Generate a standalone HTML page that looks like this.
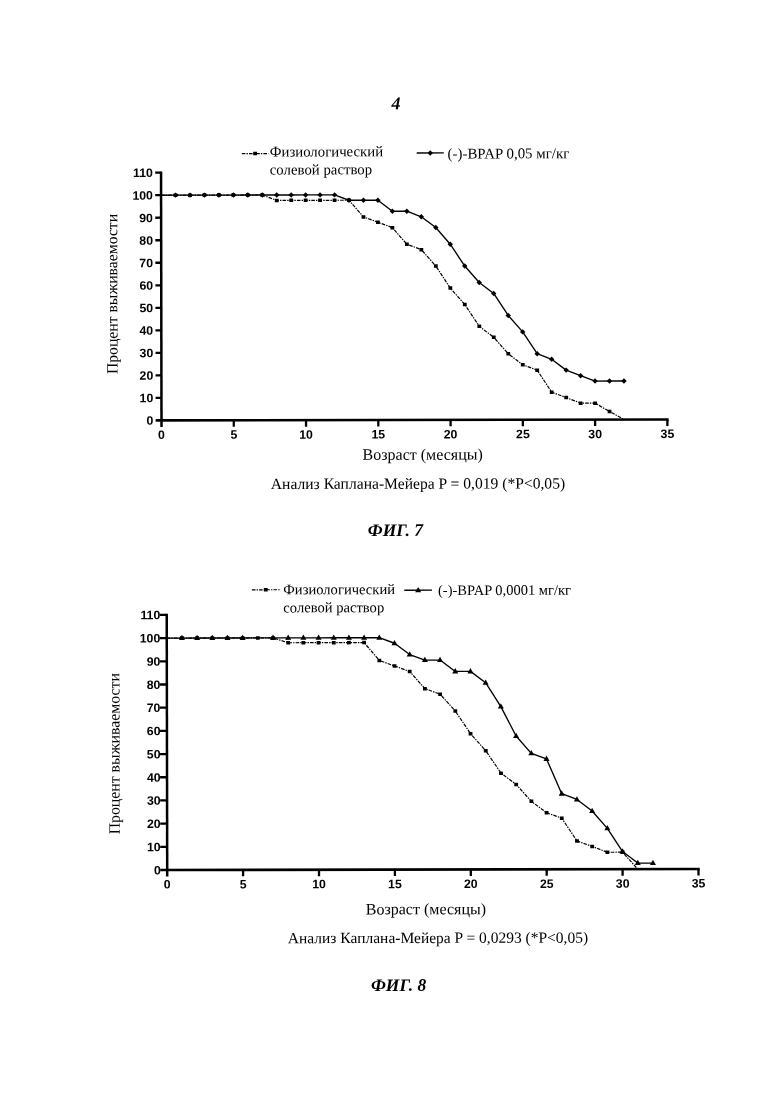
<!DOCTYPE html>
<html lang="ru"><head><meta charset="utf-8"><title>4</title>
<style>html,body{margin:0;padding:0;background:#fff}svg{display:block}</style></head>
<body>
<svg width="780" height="1103" viewBox="0 0 780 1103">
<rect width="780" height="1103" fill="#fff"/>
<g transform="rotate(-0.108 390 551.5)" fill="#000">
<text x="396.83" y="109.21" text-anchor="middle" font-family="'Liberation Serif', serif" font-size="18px" font-style="italic" font-weight="bold">4</text>
<path d="M161.75 171.10V426.47" stroke="#000" stroke-width="2.5" fill="none"/>
<path d="M155.90 419.97H668.84" stroke="#000" stroke-width="2.6" fill="none"/>
<path d="M155.90 397.45H161.75M155.90 374.93H161.75M155.90 352.41H161.75M155.90 329.89H161.75M155.90 307.37H161.75M155.90 284.85H161.75M155.90 262.33H161.75M155.90 239.81H161.75M155.90 217.29H161.75M155.90 194.77H161.75M155.90 172.25H161.75M234.02 419.97V426.47M306.29 419.97V426.47M378.56 419.97V426.47M450.83 419.97V426.47M523.10 419.97V426.47M595.37 419.97V426.47M667.64 419.97V426.47" stroke="#000" stroke-width="2.3" fill="none"/>
<g font-family="'Liberation Sans', sans-serif" font-weight="bold" font-size="12.3px" fill="#000">
<text x="153.60" y="424.37" text-anchor="end">0</text>
<text x="153.60" y="401.85" text-anchor="end">10</text>
<text x="153.60" y="379.33" text-anchor="end">20</text>
<text x="153.60" y="356.81" text-anchor="end">30</text>
<text x="153.60" y="334.29" text-anchor="end">40</text>
<text x="153.60" y="311.77" text-anchor="end">50</text>
<text x="153.60" y="289.25" text-anchor="end">60</text>
<text x="153.60" y="266.73" text-anchor="end">70</text>
<text x="153.60" y="244.21" text-anchor="end">80</text>
<text x="153.60" y="221.69" text-anchor="end">90</text>
<text x="153.60" y="199.17" text-anchor="end">100</text>
<text x="153.60" y="176.65" text-anchor="end">110</text>
<text x="161.75" y="438.57" text-anchor="middle">0</text>
<text x="234.02" y="438.57" text-anchor="middle">5</text>
<text x="306.29" y="438.57" text-anchor="middle">10</text>
<text x="378.56" y="438.57" text-anchor="middle">15</text>
<text x="450.83" y="438.57" text-anchor="middle">20</text>
<text x="523.10" y="438.57" text-anchor="middle">25</text>
<text x="595.37" y="438.57" text-anchor="middle">30</text>
<text x="667.64" y="438.57" text-anchor="middle">35</text>
</g>
<polyline points="161.75,194.77 176.20,194.77 190.66,194.77 205.11,194.77 219.57,194.77 234.02,194.77 248.47,194.77 262.93,194.77 277.38,200.17 291.84,200.17 306.29,200.17 320.74,200.17 335.20,200.17 349.65,200.17 364.11,216.84 378.56,222.24 393.01,227.65 407.47,244.31 421.92,249.72 436.38,266.16 450.83,288.23 465.28,304.67 479.74,326.51 494.19,337.55 508.65,353.99 523.10,365.02 537.55,370.43 552.01,392.50 566.46,397.90 580.92,403.53 595.37,403.53 609.82,411.86 624.28,419.97" fill="none" stroke="#000" stroke-width="1.2" stroke-dasharray="3.6 1.1 1.4 1.1"/>
<g fill="#000">
<rect x="174.30" y="193.02" width="3.8" height="3.5"/>
<rect x="188.76" y="193.02" width="3.8" height="3.5"/>
<rect x="203.21" y="193.02" width="3.8" height="3.5"/>
<rect x="217.67" y="193.02" width="3.8" height="3.5"/>
<rect x="232.12" y="193.02" width="3.8" height="3.5"/>
<rect x="246.57" y="193.02" width="3.8" height="3.5"/>
<rect x="261.03" y="193.02" width="3.8" height="3.5"/>
<rect x="275.48" y="198.42" width="3.8" height="3.5"/>
<rect x="289.94" y="198.42" width="3.8" height="3.5"/>
<rect x="304.39" y="198.42" width="3.8" height="3.5"/>
<rect x="318.84" y="198.42" width="3.8" height="3.5"/>
<rect x="333.30" y="198.42" width="3.8" height="3.5"/>
<rect x="347.75" y="198.42" width="3.8" height="3.5"/>
<rect x="362.21" y="215.09" width="3.8" height="3.5"/>
<rect x="376.66" y="220.49" width="3.8" height="3.5"/>
<rect x="391.11" y="225.90" width="3.8" height="3.5"/>
<rect x="405.57" y="242.56" width="3.8" height="3.5"/>
<rect x="420.02" y="247.97" width="3.8" height="3.5"/>
<rect x="434.48" y="264.41" width="3.8" height="3.5"/>
<rect x="448.93" y="286.48" width="3.8" height="3.5"/>
<rect x="463.38" y="302.92" width="3.8" height="3.5"/>
<rect x="477.84" y="324.76" width="3.8" height="3.5"/>
<rect x="492.29" y="335.80" width="3.8" height="3.5"/>
<rect x="506.75" y="352.24" width="3.8" height="3.5"/>
<rect x="521.20" y="363.27" width="3.8" height="3.5"/>
<rect x="535.65" y="368.68" width="3.8" height="3.5"/>
<rect x="550.11" y="390.75" width="3.8" height="3.5"/>
<rect x="564.56" y="396.15" width="3.8" height="3.5"/>
<rect x="579.02" y="401.78" width="3.8" height="3.5"/>
<rect x="593.47" y="401.78" width="3.8" height="3.5"/>
<rect x="607.92" y="410.11" width="3.8" height="3.5"/>
</g>
<polyline points="161.75,194.77 176.20,194.77 190.66,194.77 205.11,194.77 219.57,194.77 234.02,194.77 248.47,194.77 262.93,194.77 277.38,194.77 291.84,194.77 306.29,194.77 320.74,194.77 335.20,194.77 349.65,200.17 364.11,200.17 378.56,200.17 393.01,211.21 407.47,211.21 421.92,216.84 436.38,227.65 450.83,244.31 465.28,266.16 479.74,282.60 494.19,293.63 508.65,315.70 523.10,332.14 537.55,353.99 552.01,359.62 566.46,370.43 580.92,376.06 595.37,381.46 609.82,381.46 624.28,381.46" fill="none" stroke="#000" stroke-width="1.35" stroke-linejoin="round"/>
<g fill="#000">
<path d="M173.50 194.77L176.20 192.07L178.90 194.77L176.20 197.47Z"/>
<path d="M187.96 194.77L190.66 192.07L193.36 194.77L190.66 197.47Z"/>
<path d="M202.41 194.77L205.11 192.07L207.81 194.77L205.11 197.47Z"/>
<path d="M216.87 194.77L219.57 192.07L222.27 194.77L219.57 197.47Z"/>
<path d="M231.32 194.77L234.02 192.07L236.72 194.77L234.02 197.47Z"/>
<path d="M245.77 194.77L248.47 192.07L251.17 194.77L248.47 197.47Z"/>
<path d="M260.23 194.77L262.93 192.07L265.63 194.77L262.93 197.47Z"/>
<path d="M274.68 194.77L277.38 192.07L280.08 194.77L277.38 197.47Z"/>
<path d="M289.14 194.77L291.84 192.07L294.54 194.77L291.84 197.47Z"/>
<path d="M303.59 194.77L306.29 192.07L308.99 194.77L306.29 197.47Z"/>
<path d="M318.04 194.77L320.74 192.07L323.44 194.77L320.74 197.47Z"/>
<path d="M332.50 194.77L335.20 192.07L337.90 194.77L335.20 197.47Z"/>
<path d="M346.95 200.17L349.65 197.47L352.35 200.17L349.65 202.87Z"/>
<path d="M361.41 200.17L364.11 197.47L366.81 200.17L364.11 202.87Z"/>
<path d="M375.86 200.17L378.56 197.47L381.26 200.17L378.56 202.87Z"/>
<path d="M390.31 211.21L393.01 208.51L395.71 211.21L393.01 213.91Z"/>
<path d="M404.77 211.21L407.47 208.51L410.17 211.21L407.47 213.91Z"/>
<path d="M419.22 216.84L421.92 214.14L424.62 216.84L421.92 219.54Z"/>
<path d="M433.68 227.65L436.38 224.95L439.08 227.65L436.38 230.35Z"/>
<path d="M448.13 244.31L450.83 241.61L453.53 244.31L450.83 247.01Z"/>
<path d="M462.58 266.16L465.28 263.46L467.98 266.16L465.28 268.86Z"/>
<path d="M477.04 282.60L479.74 279.90L482.44 282.60L479.74 285.30Z"/>
<path d="M491.49 293.63L494.19 290.93L496.89 293.63L494.19 296.33Z"/>
<path d="M505.95 315.70L508.65 313.00L511.35 315.70L508.65 318.40Z"/>
<path d="M520.40 332.14L523.10 329.44L525.80 332.14L523.10 334.84Z"/>
<path d="M534.85 353.99L537.55 351.29L540.25 353.99L537.55 356.69Z"/>
<path d="M549.31 359.62L552.01 356.92L554.71 359.62L552.01 362.32Z"/>
<path d="M563.76 370.43L566.46 367.73L569.16 370.43L566.46 373.13Z"/>
<path d="M578.22 376.06L580.92 373.36L583.62 376.06L580.92 378.76Z"/>
<path d="M592.67 381.46L595.37 378.76L598.07 381.46L595.37 384.16Z"/>
<path d="M607.12 381.46L609.82 378.76L612.52 381.46L609.82 384.16Z"/>
<path d="M621.58 381.46L624.28 378.76L626.98 381.46L624.28 384.16Z"/>
</g>
<path d="M242.55 153.32H269.15" stroke="#000" stroke-width="1.2" stroke-dasharray="3.6 1.1 1.4 1.1" fill="none"/><rect x="253.95" y="151.57" width="3.8" height="3.5"/>
<text x="270.54" y="156.27" text-anchor="start" font-family="'Liberation Serif', serif" font-size="14.8px" >Физиологический</text>
<text x="270.51" y="174.27" text-anchor="start" font-family="'Liberation Serif', serif" font-size="14.8px" >солевой раствор</text>
<path d="M417.45 153.05H444.55" stroke="#000" stroke-width="1.35" fill="none"/><path d="M428.30 153.05L431.00 150.35L433.70 153.05L431.00 155.75Z"/>
<text x="448.34" y="158.61" text-anchor="start" font-family="'Liberation Serif', serif" font-size="14.9px" >(-)-BPAP 0,05 мг/кг</text>
<text transform="translate(117.79,293.49) rotate(-90)" text-anchor="middle" font-family="'Liberation Serif', serif" font-size="15.7px">Процент выживаемости</text>
<text x="422.87" y="459.76" text-anchor="middle" font-family="'Liberation Serif', serif" font-size="16px" >Возраст (месяцы)</text>
<text x="418.12" y="488.75" text-anchor="middle" font-family="'Liberation Serif', serif" font-size="15.6px" >Анализ Каплана-Мейера P = 0,019 (*P&lt;0,05)</text>
<text x="395.53" y="535.91" text-anchor="middle" font-family="'Liberation Serif', serif" font-size="17.5px" font-style="italic" font-weight="bold">ФИГ. 7</text>
<path d="M166.60 613.34V876.08" stroke="#000" stroke-width="2.5" fill="none"/>
<path d="M159.65 869.58H699.10" stroke="#000" stroke-width="2.6" fill="none"/>
<path d="M159.65 846.39H166.60M159.65 823.20H166.60M159.65 800.01H166.60M159.65 776.82H166.60M159.65 753.63H166.60M159.65 730.44H166.60M159.65 707.25H166.60M159.65 684.06H166.60M159.65 660.87H166.60M159.65 637.68H166.60M159.65 614.49H166.60M242.50 869.58V876.08M318.40 869.58V876.08M394.30 869.58V876.08M470.20 869.58V876.08M546.10 869.58V876.08M622.00 869.58V876.08M697.90 869.58V876.08" stroke="#000" stroke-width="2.3" fill="none"/>
<g font-family="'Liberation Sans', sans-serif" font-weight="bold" font-size="12.3px" fill="#000">
<text x="160.15" y="873.98" text-anchor="end">0</text>
<text x="160.15" y="850.79" text-anchor="end">10</text>
<text x="160.15" y="827.60" text-anchor="end">20</text>
<text x="160.15" y="804.41" text-anchor="end">30</text>
<text x="160.15" y="781.22" text-anchor="end">40</text>
<text x="160.15" y="758.03" text-anchor="end">50</text>
<text x="160.15" y="734.84" text-anchor="end">60</text>
<text x="160.15" y="711.65" text-anchor="end">70</text>
<text x="160.15" y="688.46" text-anchor="end">80</text>
<text x="160.15" y="665.27" text-anchor="end">90</text>
<text x="160.15" y="642.08" text-anchor="end">100</text>
<text x="160.15" y="618.89" text-anchor="end">110</text>
<text x="166.60" y="888.18" text-anchor="middle">0</text>
<text x="242.50" y="888.18" text-anchor="middle">5</text>
<text x="318.40" y="888.18" text-anchor="middle">10</text>
<text x="394.30" y="888.18" text-anchor="middle">15</text>
<text x="470.20" y="888.18" text-anchor="middle">20</text>
<text x="546.10" y="888.18" text-anchor="middle">25</text>
<text x="622.00" y="888.18" text-anchor="middle">30</text>
<text x="697.90" y="888.18" text-anchor="middle">35</text>
</g>
<polyline points="166.60,637.68 181.78,637.68 196.96,637.68 212.14,637.68 227.32,637.68 242.50,637.68 257.68,637.68 272.86,637.68 288.04,642.55 303.22,642.55 318.40,642.55 333.58,642.55 348.76,642.55 363.94,642.55 379.12,660.41 394.30,665.97 409.48,671.54 424.66,688.70 439.84,694.26 455.02,711.19 470.20,733.92 485.38,750.85 500.56,773.34 515.74,784.70 530.92,801.63 546.10,813.00 561.28,818.56 576.46,841.29 591.64,846.85 606.82,852.65 622.00,852.65 637.18,869.58" fill="none" stroke="#000" stroke-width="1.2" stroke-dasharray="3.6 1.1 1.4 1.1"/>
<g fill="#000">
<rect x="179.88" y="635.93" width="3.8" height="3.5"/>
<rect x="195.06" y="635.93" width="3.8" height="3.5"/>
<rect x="210.24" y="635.93" width="3.8" height="3.5"/>
<rect x="225.42" y="635.93" width="3.8" height="3.5"/>
<rect x="240.60" y="635.93" width="3.8" height="3.5"/>
<rect x="255.78" y="635.93" width="3.8" height="3.5"/>
<rect x="270.96" y="635.93" width="3.8" height="3.5"/>
<rect x="286.14" y="640.80" width="3.8" height="3.5"/>
<rect x="301.32" y="640.80" width="3.8" height="3.5"/>
<rect x="316.50" y="640.80" width="3.8" height="3.5"/>
<rect x="331.68" y="640.80" width="3.8" height="3.5"/>
<rect x="346.86" y="640.80" width="3.8" height="3.5"/>
<rect x="362.04" y="640.80" width="3.8" height="3.5"/>
<rect x="377.22" y="658.66" width="3.8" height="3.5"/>
<rect x="392.40" y="664.22" width="3.8" height="3.5"/>
<rect x="407.58" y="669.79" width="3.8" height="3.5"/>
<rect x="422.76" y="686.95" width="3.8" height="3.5"/>
<rect x="437.94" y="692.51" width="3.8" height="3.5"/>
<rect x="453.12" y="709.44" width="3.8" height="3.5"/>
<rect x="468.30" y="732.17" width="3.8" height="3.5"/>
<rect x="483.48" y="749.10" width="3.8" height="3.5"/>
<rect x="498.66" y="771.59" width="3.8" height="3.5"/>
<rect x="513.84" y="782.95" width="3.8" height="3.5"/>
<rect x="529.02" y="799.88" width="3.8" height="3.5"/>
<rect x="544.20" y="811.25" width="3.8" height="3.5"/>
<rect x="559.38" y="816.81" width="3.8" height="3.5"/>
<rect x="574.56" y="839.54" width="3.8" height="3.5"/>
<rect x="589.74" y="845.10" width="3.8" height="3.5"/>
<rect x="604.92" y="850.90" width="3.8" height="3.5"/>
<rect x="620.10" y="850.90" width="3.8" height="3.5"/>
</g>
<polyline points="166.60,637.68 181.78,637.68 196.96,637.68 212.14,637.68 227.32,637.68 242.50,637.68 257.68,637.68 272.86,637.68 288.04,637.68 303.22,637.68 318.40,637.68 333.58,637.68 348.76,637.68 363.94,637.68 379.12,637.68 394.30,643.25 409.48,654.61 424.66,660.17 439.84,660.17 455.02,671.54 470.20,671.54 485.38,682.90 500.56,706.79 515.74,736.24 530.92,753.63 546.10,759.20 561.28,793.98 576.46,799.78 591.64,811.37 606.82,828.77 622.00,851.96 637.18,863.55 652.36,863.55" fill="none" stroke="#000" stroke-width="1.35" stroke-linejoin="round"/>
<g fill="#000">
<path d="M178.78 639.68L181.78 634.38L184.78 639.68Z"/>
<path d="M193.96 639.68L196.96 634.38L199.96 639.68Z"/>
<path d="M209.14 639.68L212.14 634.38L215.14 639.68Z"/>
<path d="M224.32 639.68L227.32 634.38L230.32 639.68Z"/>
<path d="M239.50 639.68L242.50 634.38L245.50 639.68Z"/>
<path d="M269.86 639.68L272.86 634.38L275.86 639.68Z"/>
<path d="M285.04 639.68L288.04 634.38L291.04 639.68Z"/>
<path d="M300.22 639.68L303.22 634.38L306.22 639.68Z"/>
<path d="M315.40 639.68L318.40 634.38L321.40 639.68Z"/>
<path d="M330.58 639.68L333.58 634.38L336.58 639.68Z"/>
<path d="M345.76 639.68L348.76 634.38L351.76 639.68Z"/>
<path d="M360.94 639.68L363.94 634.38L366.94 639.68Z"/>
<path d="M376.12 639.68L379.12 634.38L382.12 639.68Z"/>
<path d="M391.30 645.25L394.30 639.95L397.30 645.25Z"/>
<path d="M406.48 656.61L409.48 651.31L412.48 656.61Z"/>
<path d="M421.66 662.17L424.66 656.87L427.66 662.17Z"/>
<path d="M436.84 662.17L439.84 656.87L442.84 662.17Z"/>
<path d="M452.02 673.54L455.02 668.24L458.02 673.54Z"/>
<path d="M467.20 673.54L470.20 668.24L473.20 673.54Z"/>
<path d="M482.38 684.90L485.38 679.60L488.38 684.90Z"/>
<path d="M497.56 708.79L500.56 703.49L503.56 708.79Z"/>
<path d="M512.74 738.24L515.74 732.94L518.74 738.24Z"/>
<path d="M527.92 755.63L530.92 750.33L533.92 755.63Z"/>
<path d="M543.10 761.20L546.10 755.90L549.10 761.20Z"/>
<path d="M558.28 795.98L561.28 790.68L564.28 795.98Z"/>
<path d="M573.46 801.78L576.46 796.48L579.46 801.78Z"/>
<path d="M588.64 813.37L591.64 808.07L594.64 813.37Z"/>
<path d="M603.82 830.77L606.82 825.47L609.82 830.77Z"/>
<path d="M619.00 853.96L622.00 848.66L625.00 853.96Z"/>
<path d="M634.18 865.55L637.18 860.25L640.18 865.55Z"/>
<path d="M649.36 865.55L652.36 860.25L655.36 865.55Z"/>
</g>
<path d="M251.83 589.54H279.53" stroke="#000" stroke-width="1.2" stroke-dasharray="3.6 1.1 1.4 1.1" fill="none"/><rect x="263.78" y="587.79" width="3.8" height="3.5"/>
<text x="283.22" y="594.10" text-anchor="start" font-family="'Liberation Serif', serif" font-size="14.6px" >Физиологический</text>
<text x="283.19" y="612.20" text-anchor="start" font-family="'Liberation Serif', serif" font-size="14.6px" >солевой раствор</text>
<path d="M404.23 590.23H431.93" stroke="#000" stroke-width="1.35" fill="none"/><path d="M415.08 592.23L418.08 586.93L421.08 592.23Z"/>
<text x="437.92" y="595.09" text-anchor="start" font-family="'Liberation Serif', serif" font-size="14.5px" >(-)-BPAP 0,0001 мг/кг</text>
<text transform="translate(119.12,753.19) rotate(-90)" text-anchor="middle" font-family="'Liberation Serif', serif" font-size="15.8px">Процент выживаемости</text>
<text x="425.22" y="914.37" text-anchor="middle" font-family="'Liberation Serif', serif" font-size="16px" >Возраст (месяцы)</text>
<text x="437.26" y="942.99" text-anchor="middle" font-family="'Liberation Serif', serif" font-size="15.5px" >Анализ Каплана-Мейера P = 0,0293 (*P&lt;0,05)</text>
<text x="397.77" y="990.92" text-anchor="middle" font-family="'Liberation Serif', serif" font-size="17.5px" font-style="italic" font-weight="bold">ФИГ. 8</text>
</g>
</svg>
</body></html>
